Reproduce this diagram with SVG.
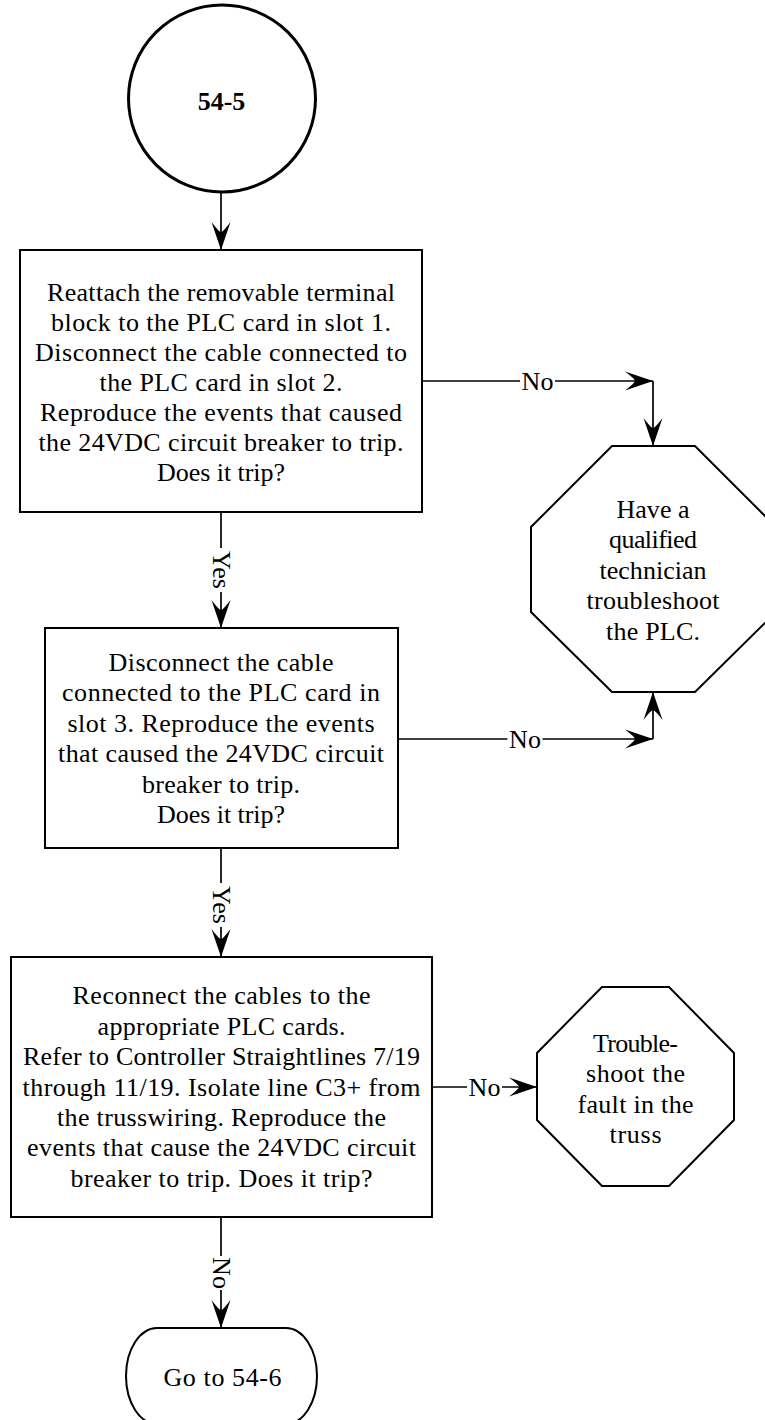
<svg xmlns="http://www.w3.org/2000/svg" width="765" height="1420" viewBox="0 0 765 1420">
  <style>
    .shape { fill: #fff; stroke: #000; stroke-width: 2; }
    .start { fill: #fff; stroke: #000; stroke-width: 3; }
    .conn { fill: none; stroke: #000; stroke-width: 1.7; }
    .lblbg { fill: #fff; stroke: none; }
    text { font-family: "Liberation Serif", "Times New Roman", serif; font-size: 26px; fill: #000; text-anchor: middle; }
    .bold { font-weight: bold; }
  </style>
  <defs>
    <marker id="arrow" markerUnits="userSpaceOnUse" markerWidth="28" markerHeight="20" refX="28" refY="10" orient="auto" overflow="visible">
      <path d="M28,10 L0,0.5 Q10,8 10,10 Q10,12 0,19.5 Z" fill="#000"/>
    </marker>
  </defs>

  <!-- connectors -->
  <g id="connectors">
    <line class="conn" x1="221" y1="192" x2="221" y2="250" marker-end="url(#arrow)"/>
    <line class="conn" x1="422" y1="381" x2="653" y2="381" marker-end="url(#arrow)"/>
    <line class="conn" x1="653" y1="381" x2="653" y2="446" marker-end="url(#arrow)"/>
    <line class="conn" x1="221" y1="512" x2="221" y2="628" marker-end="url(#arrow)"/>
    <line class="conn" x1="398" y1="739" x2="653" y2="739" marker-end="url(#arrow)"/>
    <line class="conn" x1="653" y1="739" x2="653" y2="692" marker-end="url(#arrow)"/>
    <line class="conn" x1="221" y1="848" x2="221" y2="957" marker-end="url(#arrow)"/>
    <line class="conn" x1="432" y1="1087" x2="537" y2="1087" marker-end="url(#arrow)"/>
    <line class="conn" x1="221" y1="1217" x2="221" y2="1328" marker-end="url(#arrow)"/>

    <!-- branch labels -->
    <rect class="lblbg" x="520" y="371" width="35" height="20"/>
    <text x="537.5" y="390">No</text>
    <rect class="lblbg" x="507.5" y="729" width="35" height="20"/>
    <text x="525" y="748">No</text>
    <rect class="lblbg" x="467" y="1077" width="35" height="20"/>
    <text x="484.5" y="1096">No</text>
    <g transform="translate(221,570) rotate(90)">
      <rect class="lblbg" x="-22" y="-10" width="44" height="20"/>
      <text x="0" y="8.5">Yes</text>
    </g>
    <g transform="translate(221,905) rotate(90)">
      <rect class="lblbg" x="-22" y="-10" width="44" height="20"/>
      <text x="0" y="8.5">Yes</text>
    </g>
    <g transform="translate(221,1273) rotate(90)">
      <rect class="lblbg" x="-17" y="-10" width="34" height="20"/>
      <text x="0" y="8.5">No</text>
    </g>
  </g>

  <!-- entry point -->
  <g id="start">
    <circle class="start" cx="222" cy="98.5" r="93.5"/>
    <text class="bold" x="221.5" y="110">54-5</text>
  </g>

  <g id="step1">
    <rect class="shape" x="20" y="250" width="402" height="262"/>
    <text x="221" y="300.5" textLength="348">Reattach the removable terminal</text>
    <text x="221" y="330.5" textLength="340">block to the PLC card in slot 1.</text>
    <text x="221" y="360.5" textLength="372">Disconnect the cable connected to</text>
    <text x="221" y="390.5" textLength="243">the PLC card in slot 2.</text>
    <text x="221" y="420.5" textLength="362">Reproduce the events that caused</text>
    <text x="221" y="450.5" textLength="365">the 24VDC circuit breaker to trip.</text>
    <text x="221" y="480.5" textLength="128">Does it trip?</text>
  </g>

  <g id="technician">
    <polygon class="shape" points="612,446 695,446 776,527 776,612 695,692 612,692 531,612 531,527"/>
    <text x="653" y="517.5" textLength="73">Have a</text>
    <text x="653" y="548" textLength="88">qualified</text>
    <text x="653" y="578.5" textLength="107">technician</text>
    <text x="653" y="609" textLength="133">troubleshoot</text>
    <text x="653" y="639.5" textLength="94">the PLC.</text>
  </g>

  <g id="step2">
    <rect class="shape" x="45" y="628" width="353" height="220"/>
    <text x="221" y="671" textLength="225">Disconnect the cable</text>
    <text x="221" y="701.4" textLength="318">connected to the PLC card in</text>
    <text x="221" y="731.8" textLength="307">slot 3. Reproduce the events</text>
    <text x="221" y="762.2" textLength="326">that caused the 24VDC circuit</text>
    <text x="221" y="792.6" textLength="158">breaker to trip.</text>
    <text x="221" y="823" textLength="128">Does it trip?</text>
  </g>

  <g id="step3">
    <rect class="shape" x="11" y="957" width="421" height="260"/>
    <text x="221.5" y="1004.3" textLength="298">Reconnect the cables to the</text>
    <text x="221.5" y="1034.7" textLength="248">appropriate PLC cards.</text>
    <text x="221.5" y="1065.1" textLength="397">Refer to Controller Straightlines 7/19</text>
    <text x="221.5" y="1095.5" textLength="398">through 11/19. Isolate line C3+ from</text>
    <text x="221.5" y="1125.9" textLength="329">the trusswiring. Reproduce the</text>
    <text x="221.5" y="1156.3" textLength="389">events that cause the 24VDC circuit</text>
    <text x="221.5" y="1186.7" textLength="302">breaker to trip. Does it trip?</text>
  </g>

  <g id="truss">
    <polygon class="shape" points="602,987 669,987 734,1053 734,1120 669,1186 602,1186 537,1120 537,1053"/>
    <text x="635.5" y="1052" textLength="85">Trouble-</text>
    <text x="635.5" y="1082.4" textLength="99">shoot the</text>
    <text x="635.5" y="1112.8" textLength="116">fault in the</text>
    <text x="635.5" y="1143.2" textLength="52">truss</text>
  </g>

  <g id="next">
    <rect class="shape" x="126" y="1328" width="191" height="96" rx="31" ry="48"/>
    <text x="222.5" y="1386" textLength="118">Go to 54-6</text>
  </g>
</svg>
